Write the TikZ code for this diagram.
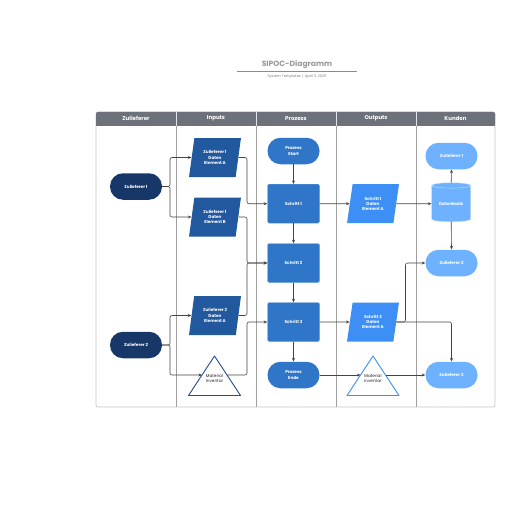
\documentclass[tikz,border=0pt]{standalone}
\usepackage{fontspec}
\setmainfont{Poppins}
\usetikzlibrary{shapes.geometric,shapes.misc,arrows.meta,calc}
\definecolor{hdr}{HTML}{6D727A}
\definecolor{cSup}{HTML}{163768}
\definecolor{cIn}{HTML}{22589E}
\definecolor{cPro}{HTML}{2F75C8}
\definecolor{cOut}{HTML}{3D8EF5}
\definecolor{cCus}{HTML}{6EB1FF}
\definecolor{cLine}{HTML}{444444}
\definecolor{cFrame}{HTML}{C4C4C4}
\definecolor{cDiv}{HTML}{A0A0A0}
\tikzset{
  txt/.style={font=\fontsize{4.2}{5.3}\selectfont\bfseries, text=white, align=center},
  stadium/.style={txt, rounded corners=13pt, minimum width=52pt, minimum height=26.5pt, inner sep=0pt},
  procbox/.style={txt, fill=cPro, draw=cPro!70!white, line width=0.4pt, rounded corners=1.5pt, minimum width=52pt, minimum height=39pt, inner sep=0pt},
  para/.style={txt, trapezium, trapezium left angle=78, trapezium right angle=102, trapezium stretches=true, minimum width=52pt, minimum height=39pt, inner sep=0pt},
  conn/.style={draw=cLine, line width=0.6pt, rounded corners=2pt, -{Stealth[length=3.6pt,width=3pt]}},
  hdrtxt/.style={font=\fontsize{5.5}{6}\selectfont\bfseries, text=white},
  trinode/.style={font=\fontsize{4.2}{5.3}\selectfont, text=black!85, align=center, inner sep=0pt}
}
\begin{document}
\begin{tikzpicture}[x=1pt,y=-1pt]
\useasboundingbox (0,0) rectangle (516,516);
% title
\node[font=\fontsize{7.6}{8}\selectfont\bfseries, text=black!40] (title) at (297,64.5) {SIPOC-Diagramm};
\draw[black!45, line width=0.5pt] (237,71.2) -- (357,71.2);
\node[font=\fontsize{3.6}{4}\selectfont, text=black!50] (sub) at (297,77) {System Templates \,|\, April 3, 2025};
% frame
\draw[cFrame, line width=0.7pt, rounded corners=2pt] (96,112) rectangle (495,407);
\fill[hdr, rounded corners=2pt] (96,112) rectangle (495,125.5);
\fill[hdr] (96,119) rectangle (495,125.5);
\foreach \x in {176,256,336,416}{
  \draw[white!80!hdr, line width=0.5pt] (\x,112) -- (\x,125.5);
  \draw[cDiv, line width=0.6pt] (\x,125.5) -- (\x,407);
}
\node[hdrtxt] (h1) at (136,118.7) {Zulieferer};
\node[hdrtxt] (h2) at (216,118.7) {Inputs};
\node[hdrtxt] (h3) at (296,118.7) {Prozess};
\node[hdrtxt] (h4) at (376,118.7) {Outputs};
\node[hdrtxt] (h5) at (455.5,118.7) {Kunden};
% suppliers
\node[stadium, fill=cSup] (sup1) at (136,186.5) {Zulieferer 1};
\node[stadium, fill=cSup] (sup2) at (136,345) {Zulieferer 2};
% inputs
\node[para, fill=cIn] (in1) at (215,157.5) {Zulieferer 1\\Daten\\Element A};
\node[para, fill=cIn] (in2) at (215,217) {Zulieferer 1\\Daten\\Element B};
\node[para, fill=cIn] (in3) at (215,315.5) {Zulieferer 2\\Daten\\Element A};
\draw[draw=cIn!90!black, line width=0.9pt, fill=white, line join=round] (214.5,356) -- (240.5,395.5) -- (188.5,395.5) -- cycle;
\node[trinode] (tri1) at (214.5,378.5) {Material\\Inventar};
\coordinate (tri1w) at (202,375);
\coordinate (tri1e) at (227,375);
% process
\node[stadium, fill=cPro] (start) at (293.5,151) {Prozess\\Start};
\node[procbox] (s1) at (293.5,203.7) {Schritt 1};
\node[procbox] (s2) at (293.5,263) {Schritt 2};
\node[procbox] (s3) at (293.5,322) {Schritt 3};
\node[stadium, fill=cPro] (end) at (293.5,375) {Prozess\\Ende};
% outputs
\node[para, fill=cOut] (out1) at (373,203.7) {Schritt 1\\Daten\\Element A};
\node[para, fill=cOut] (out3) at (373,322) {Schritt 3\\Daten\\Element A};
\draw[draw=cOut, line width=0.9pt, fill=white, line join=round] (373,356) -- (399,395.5) -- (347,395.5) -- cycle;
\node[trinode] (tri2) at (373,378.5) {Material\\Inventar};
\coordinate (tri2w) at (360.5,375);
\coordinate (tri2e) at (385.5,375);
% customers
\node[stadium, fill=cCus] (c1) at (451.5,156) {Zulieferer 1};
\node[txt, cylinder, shape border rotate=90, aspect=0.22, fill=cCus, draw=white!60!cCus, line width=0.4pt, minimum width=39pt, minimum height=39pt, inner sep=0pt] (db) at (451.2,203.7) {Datenbank};
\node[stadium, fill=cCus] (c2) at (451.5,263) {Zulieferer 2};
\node[stadium, fill=cCus] (c3) at (451.5,375) {Zulieferer 3};
% junction columns
\coordinate (jsup) at (170,0);
\coordinate (jin) at (247,0);
\coordinate (jout) at (405.5,0);
% connectors
\draw[conn] (sup1.east) -- (sup1.east -| jsup) |- (in1.west);
\draw[conn] (sup1.east) -- (sup1.east -| jsup) |- (in2.west);
\draw[conn] (sup2.east) -- (sup2.east -| jsup) |- (in3.west);
\draw[conn] (sup2.east) -- (sup2.east -| jsup) |- (tri1w);
\draw[conn] (in1.east) -- (in1.east -| jin) |- (s1.west);
\draw[conn] (in2.east) -- (in2.east -| jin) |- (s2.west);
\draw[conn] (in3.east) -- (in3.east -| jin) |- (s2.west);
\draw[conn] (tri1e) -- (tri1e -| jin) |- (s3.west);
\draw[conn] (start.south) -- (s1.north);
\draw[conn] (s1.south) -- (s2.north);
\draw[conn] (s2.south) -- (s3.north);
\draw[conn] (s3.south) -- (end.north);
\draw[conn] (s1.east) -- (out1.west);
\draw[conn] (out1.east) -- (db.west);
\draw[conn] (db.north) -- (c1.south);
\draw[conn] (db.south) -- (c2.north);
\draw[conn] (s3.east) -- (out3.west);
\draw[conn] (out3.east) -- (out3.east -| jout) |- (c2.west);
\draw[conn] (out3.east) -| (c3.north);
\draw[conn] (end.east) -- (tri2w);
\draw[conn] (tri2e) -- (c3.west);
\end{tikzpicture}
\end{document}
